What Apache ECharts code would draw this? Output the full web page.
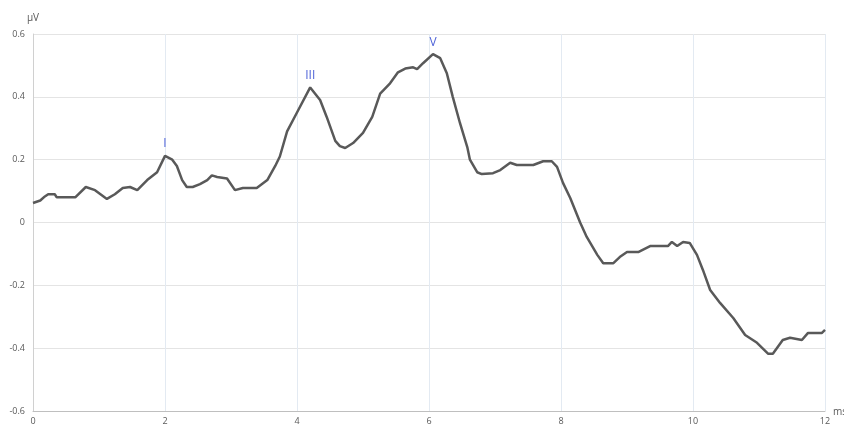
<!DOCTYPE html>
<html>
<head>
<meta charset="utf-8">
<script src="https://cdn.jsdelivr.net/npm/echarts@6/dist/echarts.min.js"></script>
<style>
  html, body { margin: 0; padding: 0; background: #ffffff; }
  #chart { width: 844px; height: 426px; }
</style>
</head>
<body>
<div id="chart"></div>
<script>
// Sample times (ms) and recorded amplitude (µV)
const timeMs = [
  0.00, 0.11, 0.18, 0.23, 0.33, 0.36, 0.64, 0.80, 0.94, 1.12,
  1.24, 1.36, 1.47, 1.58, 1.73, 1.88, 2.00, 2.11, 2.18, 2.26,
  2.33, 2.42, 2.53, 2.64, 2.71, 2.79, 2.94, 3.06, 3.18, 3.39,
  3.55, 3.67, 3.74, 3.85, 4.00, 4.20, 4.35, 4.45, 4.58, 4.65,
  4.73, 4.85, 5.00, 5.14, 5.26, 5.41, 5.53, 5.64, 5.76, 5.82,
  5.91, 6.06, 6.17, 6.27, 6.36, 6.47, 6.58, 6.62, 6.73, 6.80,
  6.97, 7.08, 7.23, 7.33, 7.58, 7.73, 7.86, 7.94, 8.03, 8.14,
  8.29, 8.39, 8.55, 8.64, 8.79, 8.89, 9.00, 9.17, 9.35, 9.62,
  9.68, 9.76, 9.85, 9.95, 10.06, 10.15, 10.26, 10.41, 10.61, 10.79,
  10.97, 11.14, 11.21, 11.36, 11.47, 11.65, 11.74, 11.95, 12.00
];
const amplitude = [
  0.062, 0.070, 0.083, 0.090, 0.090, 0.080, 0.080, 0.113, 0.103, 0.075,
  0.090, 0.110, 0.113, 0.103, 0.135, 0.160, 0.212, 0.200, 0.180, 0.135,
  0.113, 0.113, 0.122, 0.135, 0.150, 0.145, 0.140, 0.103, 0.110, 0.110,
  0.135, 0.180, 0.210, 0.290, 0.350, 0.430, 0.390, 0.336, 0.260, 0.243,
  0.237, 0.253, 0.285, 0.336, 0.410, 0.443, 0.478, 0.490, 0.494, 0.488,
  0.507, 0.536, 0.523, 0.475, 0.400, 0.316, 0.240, 0.200, 0.160, 0.154,
  0.157, 0.167, 0.190, 0.183, 0.183, 0.195, 0.195, 0.177, 0.126, 0.078,
  0.000, -0.046, -0.103, -0.130, -0.130, -0.110, -0.094, -0.094, -0.075, -0.075,
  -0.062, -0.075, -0.062, -0.065, -0.103, -0.151, -0.215, -0.256, -0.304, -0.358,
  -0.383, -0.418, -0.418, -0.374, -0.367, -0.374, -0.352, -0.352, -0.342
];
// Wave peak names and the sample index where each peak sits
const peakNames = ['I', 'III', 'V'];
const peakIndex = [16, 35, 51];

const points = timeMs.map((t, i) => [t, amplitude[i]]);
const peakMarks = peakNames.map((name, k) => ({
  name: name,
  coord: [timeMs[peakIndex[k]], amplitude[peakIndex[k]]],
  label: { formatter: name }
}));

const chart = echarts.init(document.getElementById('chart'), null, { renderer: 'canvas' });
const labelFont = { color: '#595959', fontSize: 9, fontFamily: 'Open Sans' };

chart.setOption({
  animation: false,
  backgroundColor: '#ffffff',
  grid: { left: 33, right: 19, top: 34, bottom: 15, containLabel: false, outerBoundsMode: 'none' },
  xAxis: {
    type: 'value',
    min: 0, max: 12, interval: 2,
    name: 'ms',
    nameLocation: 'end',
    nameGap: 8,
    nameTextStyle: { color: '#595959', fontSize: 10, fontFamily: 'Open Sans', verticalAlign: 'bottom', padding: [0, 0, -6, 0] },
    axisLine: { show: true, onZero: false, lineStyle: { color: '#bfbfbf', width: 1 } },
    axisTick: { show: false },
    axisLabel: Object.assign({ margin: 6 }, labelFont),
    splitLine: { show: true, lineStyle: { color: '#e3eaf2', width: 1 } }
  },
  yAxis: {
    type: 'value',
    min: -0.6, max: 0.6, interval: 0.2,
    name: 'µV',
    nameLocation: 'end',
    nameGap: 11,
    nameTextStyle: { color: '#595959', fontSize: 10, fontFamily: 'Open Sans', align: 'center' },
    axisLine: { show: true, lineStyle: { color: '#d0d0d0', width: 1 } },
    axisTick: { show: false },
    axisLabel: Object.assign({
      margin: 8,
      formatter: v => (Math.abs(v) < 1e-9 ? '0' : String(Math.round(v * 10) / 10))
    }, labelFont),
    splitLine: { show: true, lineStyle: { color: '#e4e4e4', width: 1 } }
  },
  series: [{
    type: 'line',
    data: points,
    showSymbol: false,
    symbol: 'none',
    lineStyle: { color: '#595959', width: 2.5 },
    markPoint: {
      symbol: 'circle',
      symbolSize: 0,
      label: {
        show: true,
        position: 'top',
        distance: 6,
        color: '#4f63d8',
        fontSize: 12,
        fontFamily: 'Open Sans'
      },
      data: peakMarks
    }
  }]
});
</script>
</body>
</html>
